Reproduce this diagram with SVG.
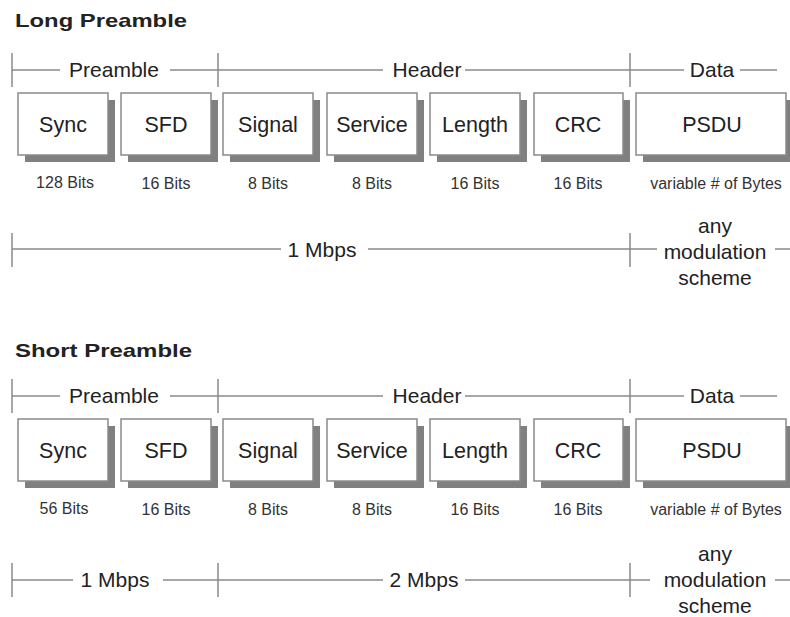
<svg xmlns="http://www.w3.org/2000/svg" width="790" height="617" viewBox="0 0 790 617">
<style>
.title{font-family:"Liberation Sans",Arial,sans-serif;font-weight:bold;font-size:19px;fill:#222}
.lbl{font-family:"Liberation Sans",Arial,sans-serif;font-size:21px;fill:#222;text-anchor:middle}
.box{font-family:"Liberation Sans",Arial,sans-serif;font-size:21.5px;fill:#222;text-anchor:middle}
.bits{font-family:"Liberation Sans",Arial,sans-serif;font-size:16px;fill:#333;text-anchor:middle}
.ln{stroke:#8a8a8a;stroke-width:1.5;fill:none}
.sh{fill:#808080}
.bx{fill:#fff;stroke:#8a8a8a;stroke-width:1.5}
</style>
<rect width="790" height="617" fill="#fff"/>

<g id="long">
<text class="title" x="15" y="27" textLength="172" lengthAdjust="spacingAndGlyphs">Long Preamble</text>
<g id="long-connectors">
<path class="ln" d="M12,53V87M218,53V87M630,53V87M12,70H60M170,70H383M465,70H684M740,70H777M12,233V267M630,233V267M12,249H281M368,249H657M775,249H790"/>
</g>
<text class="lbl" x="114" y="77">Preamble</text>
<text class="lbl" x="427" y="77">Header</text>
<text class="lbl" x="712" y="77">Data</text>
<g id="l-sync"><rect class="sh" x="25" y="100" width="90" height="62"/><rect class="bx" x="18" y="93" width="90" height="62"/><text class="box" x="63" y="132">Sync</text><text class="bits" x="65" y="188">128 Bits</text></g>
<g id="l-sfd"><rect class="sh" x="128" y="100" width="90" height="62"/><rect class="bx" x="121" y="93" width="90" height="62"/><text class="box" x="166" y="132">SFD</text><text class="bits" x="166" y="189">16 Bits</text></g>
<g id="l-signal"><rect class="sh" x="230" y="100" width="90" height="62"/><rect class="bx" x="223" y="93" width="90" height="62"/><text class="box" x="268" y="132">Signal</text><text class="bits" x="268" y="189">8 Bits</text></g>
<g id="l-service"><rect class="sh" x="334" y="100" width="90" height="62"/><rect class="bx" x="327" y="93" width="90" height="62"/><text class="box" x="372" y="132">Service</text><text class="bits" x="372" y="189">8 Bits</text></g>
<g id="l-length"><rect class="sh" x="437" y="100" width="90" height="62"/><rect class="bx" x="430" y="93" width="90" height="62"/><text class="box" x="475" y="132">Length</text><text class="bits" x="475" y="189">16 Bits</text></g>
<g id="l-crc"><rect class="sh" x="541" y="100" width="89" height="62"/><rect class="bx" x="534" y="93" width="89" height="62"/><text class="box" x="578" y="132">CRC</text><text class="bits" x="578" y="189">16 Bits</text></g>
<g id="l-psdu"><rect class="sh" x="643" y="100" width="150" height="62"/><rect class="bx" x="636" y="93" width="150" height="62"/><text class="box" x="712" y="132">PSDU</text><text class="bits" x="716" y="189">variable # of Bytes</text></g>
<text class="lbl" x="322" y="257">1 Mbps</text>
<text class="lbl" x="715" y="233">any</text>
<text class="lbl" x="715" y="259">modulation</text>
<text class="lbl" x="715" y="285">scheme</text>
</g>

<g id="short">
<text class="title" x="15" y="357" textLength="177" lengthAdjust="spacingAndGlyphs">Short Preamble</text>
<g id="short-connectors">
<path class="ln" d="M12,379V413M218,379V413M630,379V413M12,396H60M170,396H383M465,396H684M740,396H777M12,563V597M218,563V597M630,563V597M12,580H73M163,580H383M465,580H650M775,580H790"/>
</g>
<text class="lbl" x="114" y="403">Preamble</text>
<text class="lbl" x="427" y="403">Header</text>
<text class="lbl" x="712" y="403">Data</text>
<g id="s-sync"><rect class="sh" x="25" y="426" width="90" height="62"/><rect class="bx" x="18" y="419" width="90" height="62"/><text class="box" x="63" y="458">Sync</text><text class="bits" x="64" y="514">56 Bits</text></g>
<g id="s-sfd"><rect class="sh" x="128" y="426" width="90" height="62"/><rect class="bx" x="121" y="419" width="90" height="62"/><text class="box" x="166" y="458">SFD</text><text class="bits" x="166" y="515">16 Bits</text></g>
<g id="s-signal"><rect class="sh" x="230" y="426" width="90" height="62"/><rect class="bx" x="223" y="419" width="90" height="62"/><text class="box" x="268" y="458">Signal</text><text class="bits" x="268" y="515">8 Bits</text></g>
<g id="s-service"><rect class="sh" x="334" y="426" width="90" height="62"/><rect class="bx" x="327" y="419" width="90" height="62"/><text class="box" x="372" y="458">Service</text><text class="bits" x="372" y="515">8 Bits</text></g>
<g id="s-length"><rect class="sh" x="437" y="426" width="90" height="62"/><rect class="bx" x="430" y="419" width="90" height="62"/><text class="box" x="475" y="458">Length</text><text class="bits" x="475" y="515">16 Bits</text></g>
<g id="s-crc"><rect class="sh" x="541" y="426" width="89" height="62"/><rect class="bx" x="534" y="419" width="89" height="62"/><text class="box" x="578" y="458">CRC</text><text class="bits" x="578" y="515">16 Bits</text></g>
<g id="s-psdu"><rect class="sh" x="643" y="426" width="150" height="62"/><rect class="bx" x="636" y="419" width="150" height="62"/><text class="box" x="712" y="458">PSDU</text><text class="bits" x="716" y="515">variable # of Bytes</text></g>
<text class="lbl" x="115" y="587">1 Mbps</text>
<text class="lbl" x="424" y="587">2 Mbps</text>
<text class="lbl" x="715" y="561">any</text>
<text class="lbl" x="715" y="587">modulation</text>
<text class="lbl" x="715" y="613">scheme</text>
</g>
</svg>
